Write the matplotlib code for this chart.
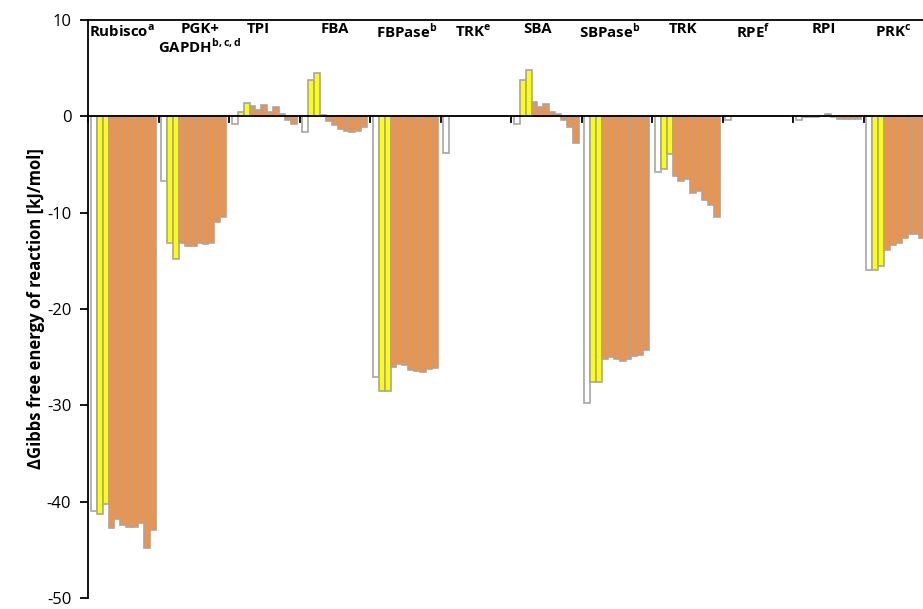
import numpy as np
import matplotlib.pyplot as plt

plt.rcParams['font.family'] = ['Open Sans', 'DejaVu Sans']
plt.rcParams['axes.unicode_minus'] = False
plt.rcParams['mathtext.fontset'] = 'custom'
plt.rcParams['mathtext.bf'] = 'Open Sans:bold'
plt.rcParams['mathtext.rm'] = 'Open Sans'

# enzyme labels (top of plot)
labels = [r'Rubisco$^{\mathbf{a}}$', 'PGK+\n' + r'GAPDH$^{\mathbf{b,c,d}}$', 'TPI', 'FBA',
          r'FBPase$^{\mathbf{b}}$', r'TRK$^{\mathbf{e}}$', 'SBA', r'SBPase$^{\mathbf{b}}$',
          'TRK', r'RPE$^{\mathbf{f}}$', 'RPI', r'PRK$^{\mathbf{c}}$']

# per enzyme: 1 white, 2 yellow, 8 orange conditions [kJ/mol]
white = [-41.0, -6.7, -0.8, -1.6, -27.1, -3.8, -0.8, -29.8, -5.8, -0.4, -0.4, -15.9]
yellow = [
    [-41.3, -40.2],
    [-13.1, -14.8],
    [0.4, 1.4],
    [3.8, 4.5],
    [-28.5, -28.5],
    [0.0, 0.0],
    [3.8, 4.8],
    [-27.6, -27.6],
    [-5.5, -3.9],
    [0.0, 0.0],
    [-0.1, -0.1],
    [-15.9, -15.5],
]
orange = [
    [-42.7, -41.8, -42.4, -42.6, -42.6, -42.2, -44.8, -42.9],
    [-13.2, -13.5, -13.5, -13.1, -13.3, -13.2, -11.0, -10.4],
    [1.05, 0.7, 1.2, 0.4, 0.95, 0.2, -0.4, -0.8],
    [0.15, -0.5, -0.95, -1.3, -1.5, -1.65, -1.5, -1.15],
    [-26.0, -25.75, -25.85, -26.3, -26.45, -26.5, -26.2, -26.1],
    [0.0, 0.0, 0.0, 0.0, 0.0, 0.0, 0.0, 0.0],
    [1.5, 0.95, 1.3, 0.4, 0.25, -0.35, -1.15, -2.75],
    [-25.2, -25.0, -25.2, -25.4, -25.2, -24.9, -24.8, -24.3],
    [-6.2, -6.7, -6.55, -8.0, -7.7, -8.7, -9.25, -10.4],
    [0.0, 0.0, 0.0, 0.0, 0.0, 0.0, 0.0, 0.0],
    [-0.05, 0.05, 0.2, -0.1, -0.3, -0.3, -0.3, -0.25],
    [-13.9, -13.35, -13.1, -12.65, -12.25, -12.25, -12.6, -12.5],
]

# where the labels sit (in category units)
label_x = [0.48, 1.59, 2.41, 3.50, 4.52, 5.46, 6.37, 7.40, 8.44, 9.43, 10.43, 11.42]

fig = plt.figure(figsize=(9.23, 6.09), dpi=100)
ax = fig.add_axes([88 / 923, 11 / 609, 846 / 923, 578 / 609])

bw = 1 / 12
edge = '#A6A6A6'
for i in range(len(labels)):
    vals = [white[i]] + yellow[i] + orange[i]
    cols = ['white'] * 1 + ['#FFFF00'] * 2 + ['#F8903C'] * 8
    x = i + bw + np.arange(len(vals)) * bw
    ax.bar(x, vals, width=bw, color=cols, edgecolor=edge, linewidth=1.2, zorder=2)

ax.axhline(0, color='black', lw=1.3, zorder=3)
# category separator ticks on zero line
for b in range(len(labels) + 1):
    ax.plot([b, b], [0, -0.6], color='black', lw=1.3, zorder=3, clip_on=False)

for i, lab in enumerate(labels):
    ax.text(label_x[i], 9.75, lab, ha='center', va='top', fontsize=10.8, fontweight='bold',
            linespacing=1.05)

ax.set_xlim(0, 12)
ax.set_ylim(-50, 10)
ax.set_yticks(np.arange(-50, 11, 10))
ax.set_xticks([])
ax.tick_params(axis='y', direction='out', length=6, width=1.3, labelsize=12, pad=6)
for s in ['left', 'top']:
    ax.spines[s].set_linewidth(1.3)
ax.spines['bottom'].set_visible(False)
ax.spines['right'].set_visible(False)
ax.set_ylabel('ΔGibbs free energy of reaction [kJ/mol]', fontsize=12, fontweight='bold', labelpad=1)

fig.savefig('out.png', dpi=100)
